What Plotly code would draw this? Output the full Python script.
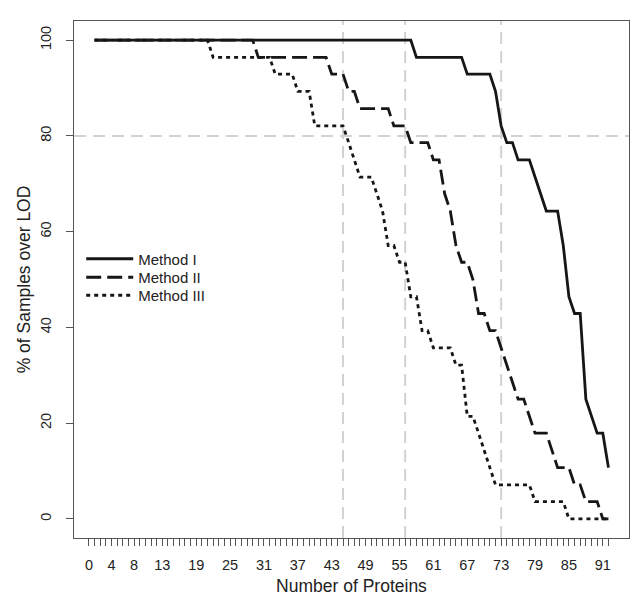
import plotly.graph_objects as go

# ---- data ----
proteins = list(range(1, 93))

method_1 = [
    100, 100, 100, 100, 100, 100, 100, 100, 100, 100,
    100, 100, 100, 100, 100, 100, 100, 100, 100, 100,
    100, 100, 100, 100, 100, 100, 100, 100, 100, 100,
    100, 100, 100, 100, 100, 100, 100, 100, 100, 100,
    100, 100, 100, 100, 100, 100, 100, 100, 100, 100,
    100, 100, 100, 100, 100, 100, 100, 96.4, 96.4, 96.4,
    96.4, 96.4, 96.4, 96.4, 96.4, 96.4, 92.9, 92.9, 92.9, 92.9,
    92.9, 89.3, 82.1, 78.6, 78.6, 75.0, 75.0, 75.0, 71.4, 67.9,
    64.3, 64.3, 64.3, 57.1, 46.4, 42.9, 42.9, 25.0, 21.4, 17.9,
    17.9, 10.7,
]

method_2 = [
    100, 100, 100, 100, 100, 100, 100, 100, 100, 100,
    100, 100, 100, 100, 100, 100, 100, 100, 100, 100,
    100, 100, 100, 100, 100, 100, 100, 100, 100, 96.4,
    96.4, 96.4, 96.4, 96.4, 96.4, 96.4, 96.4, 96.4, 96.4, 96.4,
    96.4, 96.4, 92.9, 92.9, 92.9, 89.3, 89.3, 85.7, 85.7, 85.7,
    85.7, 85.7, 85.7, 82.1, 82.1, 82.1, 78.6, 78.6, 78.6, 78.6,
    75.0, 75.0, 67.9, 64.3, 57.1, 53.6, 53.6, 50.0, 42.9, 42.9,
    39.3, 39.3, 35.7, 32.1, 28.6, 25.0, 25.0, 21.4, 17.9, 17.9,
    17.9, 14.3, 10.7, 10.7, 10.7, 7.1, 7.1, 3.6, 3.6, 3.6,
    0.0, 0.0,
]

method_3 = [
    100, 100, 100, 100, 100, 100, 100, 100, 100, 100,
    100, 100, 100, 100, 100, 100, 100, 100, 100, 100,
    100, 96.4, 96.4, 96.4, 96.4, 96.4, 96.4, 96.4, 96.4, 96.4,
    96.4, 96.4, 92.9, 92.9, 92.9, 92.9, 89.3, 89.3, 89.3, 82.1,
    82.1, 82.1, 82.1, 82.1, 82.1, 78.6, 75.0, 71.4, 71.4, 71.4,
    67.9, 64.3, 57.1, 57.1, 53.6, 53.6, 46.4, 46.4, 39.3, 39.3,
    35.7, 35.7, 35.7, 35.7, 32.1, 32.1, 21.4, 21.4, 17.9, 14.3,
    10.7, 7.1, 7.1, 7.1, 7.1, 7.1, 7.1, 7.1, 3.6, 3.6,
    3.6, 3.6, 3.6, 3.6, 0.0, 0.0, 0.0, 0.0, 0.0, 0.0,
    0.0, 0.0,
]

series_names = ["Method I", "Method II", "Method III"]

x_tick_values = list(range(0, 93))
x_tick_labels = [0, 4, 8, 13, 19, 25, 31, 37, 43, 49, 55, 61, 67, 73, 79, 85, 91]
y_tick_values = [0, 20, 40, 60, 80, 100]

ref_x_lines = [45, 56, 73]
ref_y_lines = [80]

# ---- styling ----
FONT = "Liberation Sans, Arial, Helvetica, sans-serif"
LINE_COLOR = "#161616"
AXIS_COLOR = "#555555"
TEXT_COLOR = "#222222"
GRID_COLOR = "#d2d2d2"

dashes = ["solid", "15px,6px", "4px,4px"]
legend_ids = ["legend", "legend2", "legend3"]
legend_rows_y = [0.5397, 0.5039, 0.4691]   # paper-y of each legend row centre

fig = go.Figure()
for name, ys, dash, lg in zip(series_names, [method_1, method_2, method_3], dashes, legend_ids):
    fig.add_trace(go.Scatter(
        x=proteins, y=ys, mode="lines", name=name, legend=lg,
        line=dict(color=LINE_COLOR, width=2.8, dash=dash),
        hoverinfo="skip",
    ))

for xv in ref_x_lines:
    fig.add_shape(type="line", xref="x", yref="paper", x0=xv, x1=xv, y0=0, y1=1,
                  line=dict(color=GRID_COLOR, width=2, dash="12px,7px"), layer="below")
for yv in ref_y_lines:
    fig.add_shape(type="line", xref="paper", yref="y", x0=0, x1=1, y0=yv, y1=yv,
                  line=dict(color=GRID_COLOR, width=2, dash="12px,7px"), layer="below")

x_ticktext = [str(v) if v in x_tick_labels else "" for v in x_tick_values]

legend_style = dict(
    x=0.013, xanchor="left", yanchor="middle",
    bgcolor="rgba(0,0,0,0)", borderwidth=0,
    font=dict(family=FONT, size=15, color=TEXT_COLOR),
    itemwidth=47,
)

fig.update_layout(
    width=642, height=603,
    margin=dict(l=66, r=21, t=13, b=73, autoexpand=False),
    paper_bgcolor="white", plot_bgcolor="white",
    font=dict(family=FONT, color=TEXT_COLOR, size=14.5),
    showlegend=True,
    legend=dict(y=legend_rows_y[0], **legend_style),
    legend2=dict(y=legend_rows_y[1], **legend_style),
    legend3=dict(y=legend_rows_y[2], **legend_style),
    xaxis=dict(
        range=[-2.64, 95.64], tickmode="array",
        tickvals=x_tick_values, ticktext=x_ticktext,
        ticks="outside", ticklen=7, tickwidth=1, tickcolor=AXIS_COLOR,
        showline=True, mirror=True, linecolor=AXIS_COLOR, linewidth=1.2,
        showgrid=False, zeroline=False,
        tickfont=dict(size=14.5, color=TEXT_COLOR), ticklabelstandoff=6,
        title=dict(text="Number of Proteins", font=dict(size=17.5, color=TEXT_COLOR), standoff=8),
    ),
    yaxis=dict(
        range=[-4, 104], tickmode="array", tickvals=y_tick_values,
        tickangle=-90,
        ticks="outside", ticklen=7, tickwidth=1, tickcolor=AXIS_COLOR,
        showline=True, mirror=True, linecolor=AXIS_COLOR, linewidth=1.2,
        showgrid=False, zeroline=False,
        tickfont=dict(size=14.5, color=TEXT_COLOR), ticklabelstandoff=9,
        title=dict(text="% of Samples over LOD", font=dict(size=17.5, color=TEXT_COLOR), standoff=2),
    ),
)

fig.write_html("out.html")
